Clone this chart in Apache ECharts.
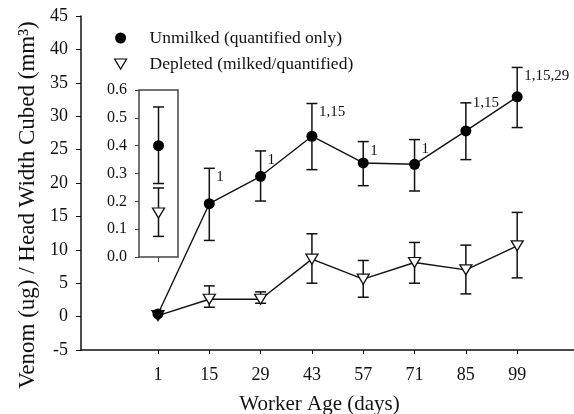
<!DOCTYPE html>
<html>
<head>
<meta charset="utf-8">
<script src="https://cdn.jsdelivr.net/npm/echarts@6/dist/echarts.min.js"></script>
<style>
html,body{margin:0;padding:0;background:#fff}
#chart{width:574px;height:414px}
</style>
</head>
<body>
<div id="chart"></div>
<script>
// worker age (days)
var days=[1,15,29,43,57,71,85,99];

// unmilked (quantified only): mean and error bar ends
var unmilkedMean=[0.4,16.9,21.0,27.0,23.0,22.8,27.8,32.9];
var unmilkedLow=[0.4,11.4,17.3,22.0,19.6,18.8,23.5,28.3];
var unmilkedHigh=[0.4,22.2,24.8,31.9,26.2,26.5,32.0,37.3];
var sigLabels=['','1','1','1,15','1','1','1,15','1,15,29'];

// depleted (milked/quantified)
var depletedMean=[0.15,2.6,2.6,8.6,5.6,8.1,7.0,10.6];
var depletedLow=[0.15,1.4,2.0,5.0,2.9,5.0,3.4,5.8];
var depletedHigh=[0.15,4.6,3.7,12.4,8.4,11.1,10.7,15.6];

// inset: day 1 on its own scale [unmilked, depleted]
var insetMean=[0.40,0.158];
var insetLow=[0.264,0.074];
var insetHigh=[0.539,0.248];

var seriesNames=['Unmilked (quantified only)','Depleted (milked/quantified)'];
var font='Liberation Serif';
var downTri='path://M0,0L12,0L6,10Z';

function pairs(xs,ys){
    var out=[];
    for(var i=0;i<xs.length;i++){ out.push([xs[i],ys[i]]); }
    return out;
}
function bars(xs,lo,hi){
    var out=[];
    for(var i=0;i<xs.length;i++){ out.push([xs[i],lo[i],hi[i]]); }
    return out;
}

function errorBar(params,api){
    var x=api.value(0),lo=api.value(1),hi=api.value(2);
    if(lo===hi) return;
    var top=api.coord([x,hi]),bot=api.coord([x,lo]);
    var w=5.5;
    var st={stroke:'#111',lineWidth:1.5};
    return {type:'group',children:[
        {type:'line',shape:{x1:top[0],y1:top[1],x2:bot[0],y2:bot[1]},style:st},
        {type:'line',shape:{x1:top[0]-w,y1:top[1],x2:top[0]+w,y2:top[1]},style:st},
        {type:'line',shape:{x1:bot[0]-w,y1:bot[1],x2:bot[0]+w,y2:bot[1]},style:st}
    ]};
}

// label drop below the cap; the 85 day one sits level with its cap
var labelDy=[9,9,9,9,9,9,0,9];
function sigLabel(params,api){
    var txt=sigLabels[params.dataIndex];
    if(!txt) return;
    var p=api.coord([api.value(0),api.value(1)]);
    return {type:'text',x:p[0]+7,y:p[1]+labelDy[params.dataIndex],
        style:{text:txt,fill:'#111',fontSize:15,fontFamily:font,verticalAlign:'middle',align:'left'}};
}

var sigData=[];
for(var i=0;i<days.length;i++){ sigData.push([days[i],unmilkedHigh[i]]); }

var chart=echarts.init(document.getElementById('chart'));
var option={
    animation:false,
    legend:{
        orient:'vertical',left:109,top:24,itemGap:8,
        itemWidth:12,itemHeight:11,
        textStyle:{fontFamily:font,fontSize:17.5,color:'#111',padding:[0,0,0,18]},
        data:[
            {name:seriesNames[0],icon:'circle',itemStyle:{color:'#000',borderWidth:0}},
            {name:seriesNames[1],icon:downTri,itemStyle:{color:'#fff',borderColor:'#000',borderWidth:1.2}}
        ]
    },
    grid:[
        {left:81,top:16,right:0,bottom:64,containLabel:false,outerBoundsMode:'none'},
        {left:139,top:90,width:39,height:167,show:true,borderColor:'#444',borderWidth:1.5,
            backgroundColor:'transparent',outerBoundsMode:'none'}
    ],
    xAxis:[
        {type:'value',gridIndex:0,min:-20,max:114.5,
            name:'Worker Age (days)',nameLocation:'middle',nameGap:44,
            nameTextStyle:{fontFamily:font,fontSize:21,color:'#111',padding:[0,16,0,0]},
            axisLine:{show:true,onZero:false,lineStyle:{color:'#111',width:1.5}},
            axisTick:{show:true,length:4,customValues:days,lineStyle:{color:'#111'}},
            axisLabel:{customValues:days,fontFamily:font,fontSize:18,color:'#111',margin:16},
            splitLine:{show:false}
        },
        {type:'value',gridIndex:1,min:0,max:2,
            axisLine:{show:false,onZero:false},
            axisTick:{show:true,length:5,customValues:[1],lineStyle:{color:'#444'}},
            axisLabel:{show:false},
            splitLine:{show:false}
        }
    ],
    yAxis:[
        {type:'value',gridIndex:0,min:-5,max:45,interval:5,
            name:'Venom (ug) / Head Width Cubed (mm\u00B3)',nameLocation:'middle',nameGap:42,
            nameTextStyle:{fontFamily:font,fontSize:23,color:'#111',padding:[0,44,0,0]},
            axisLine:{show:true,onZero:false,lineStyle:{color:'#111',width:1.5}},
            axisTick:{show:true,length:5,lineStyle:{color:'#111'}},
            axisLabel:{fontFamily:font,fontSize:18,color:'#111',margin:13},
            splitLine:{show:false}
        },
        {type:'value',gridIndex:1,min:0,max:0.6,interval:0.1,
            axisLine:{show:false,onZero:false},
            axisTick:{show:true,length:4,lineStyle:{color:'#444'}},
            axisLabel:{fontFamily:font,fontSize:16,color:'#111',margin:12,
                formatter:function(v){return v.toFixed(1);}},
            splitLine:{show:false}
        }
    ],
    series:[
        {type:'custom',xAxisIndex:0,yAxisIndex:0,z:1,renderItem:errorBar,
            data:bars(days,unmilkedLow,unmilkedHigh),silent:true},
        {type:'custom',xAxisIndex:0,yAxisIndex:0,z:1,renderItem:errorBar,
            data:bars(days,depletedLow,depletedHigh),silent:true},
        {type:'custom',xAxisIndex:0,yAxisIndex:0,z:1,renderItem:sigLabel,
            data:sigData,silent:true},
        {name:seriesNames[0],type:'line',xAxisIndex:0,yAxisIndex:0,z:3,
            data:pairs(days,unmilkedMean),
            symbol:'circle',symbolSize:11,showAllSymbol:true,
            lineStyle:{color:'#111',width:1.4},
            itemStyle:{color:'#000'}
        },
        {name:seriesNames[1],type:'line',xAxisIndex:0,yAxisIndex:0,z:2,
            data:pairs(days,depletedMean),
            symbol:'triangle',symbolRotate:180,symbolSize:[12,10],showAllSymbol:true,
            lineStyle:{color:'#111',width:1.4},
            itemStyle:{color:'#fff',borderColor:'#111',borderWidth:1.3}
        },
        {type:'custom',xAxisIndex:1,yAxisIndex:1,z:1,renderItem:errorBar,
            data:bars([1,1],insetLow,insetHigh),silent:true},
        {type:'scatter',xAxisIndex:1,yAxisIndex:1,z:3,
            data:[[1,insetMean[0]]],symbol:'circle',symbolSize:11,
            itemStyle:{color:'#000',opacity:1}},
        {type:'scatter',xAxisIndex:1,yAxisIndex:1,z:3,
            data:[[1,insetMean[1]]],symbol:'triangle',symbolRotate:180,symbolSize:[12,10],
            itemStyle:{color:'#fff',borderColor:'#111',borderWidth:1.3,opacity:1}}
    ]
};
chart.setOption(option);
</script>
</body>
</html>
